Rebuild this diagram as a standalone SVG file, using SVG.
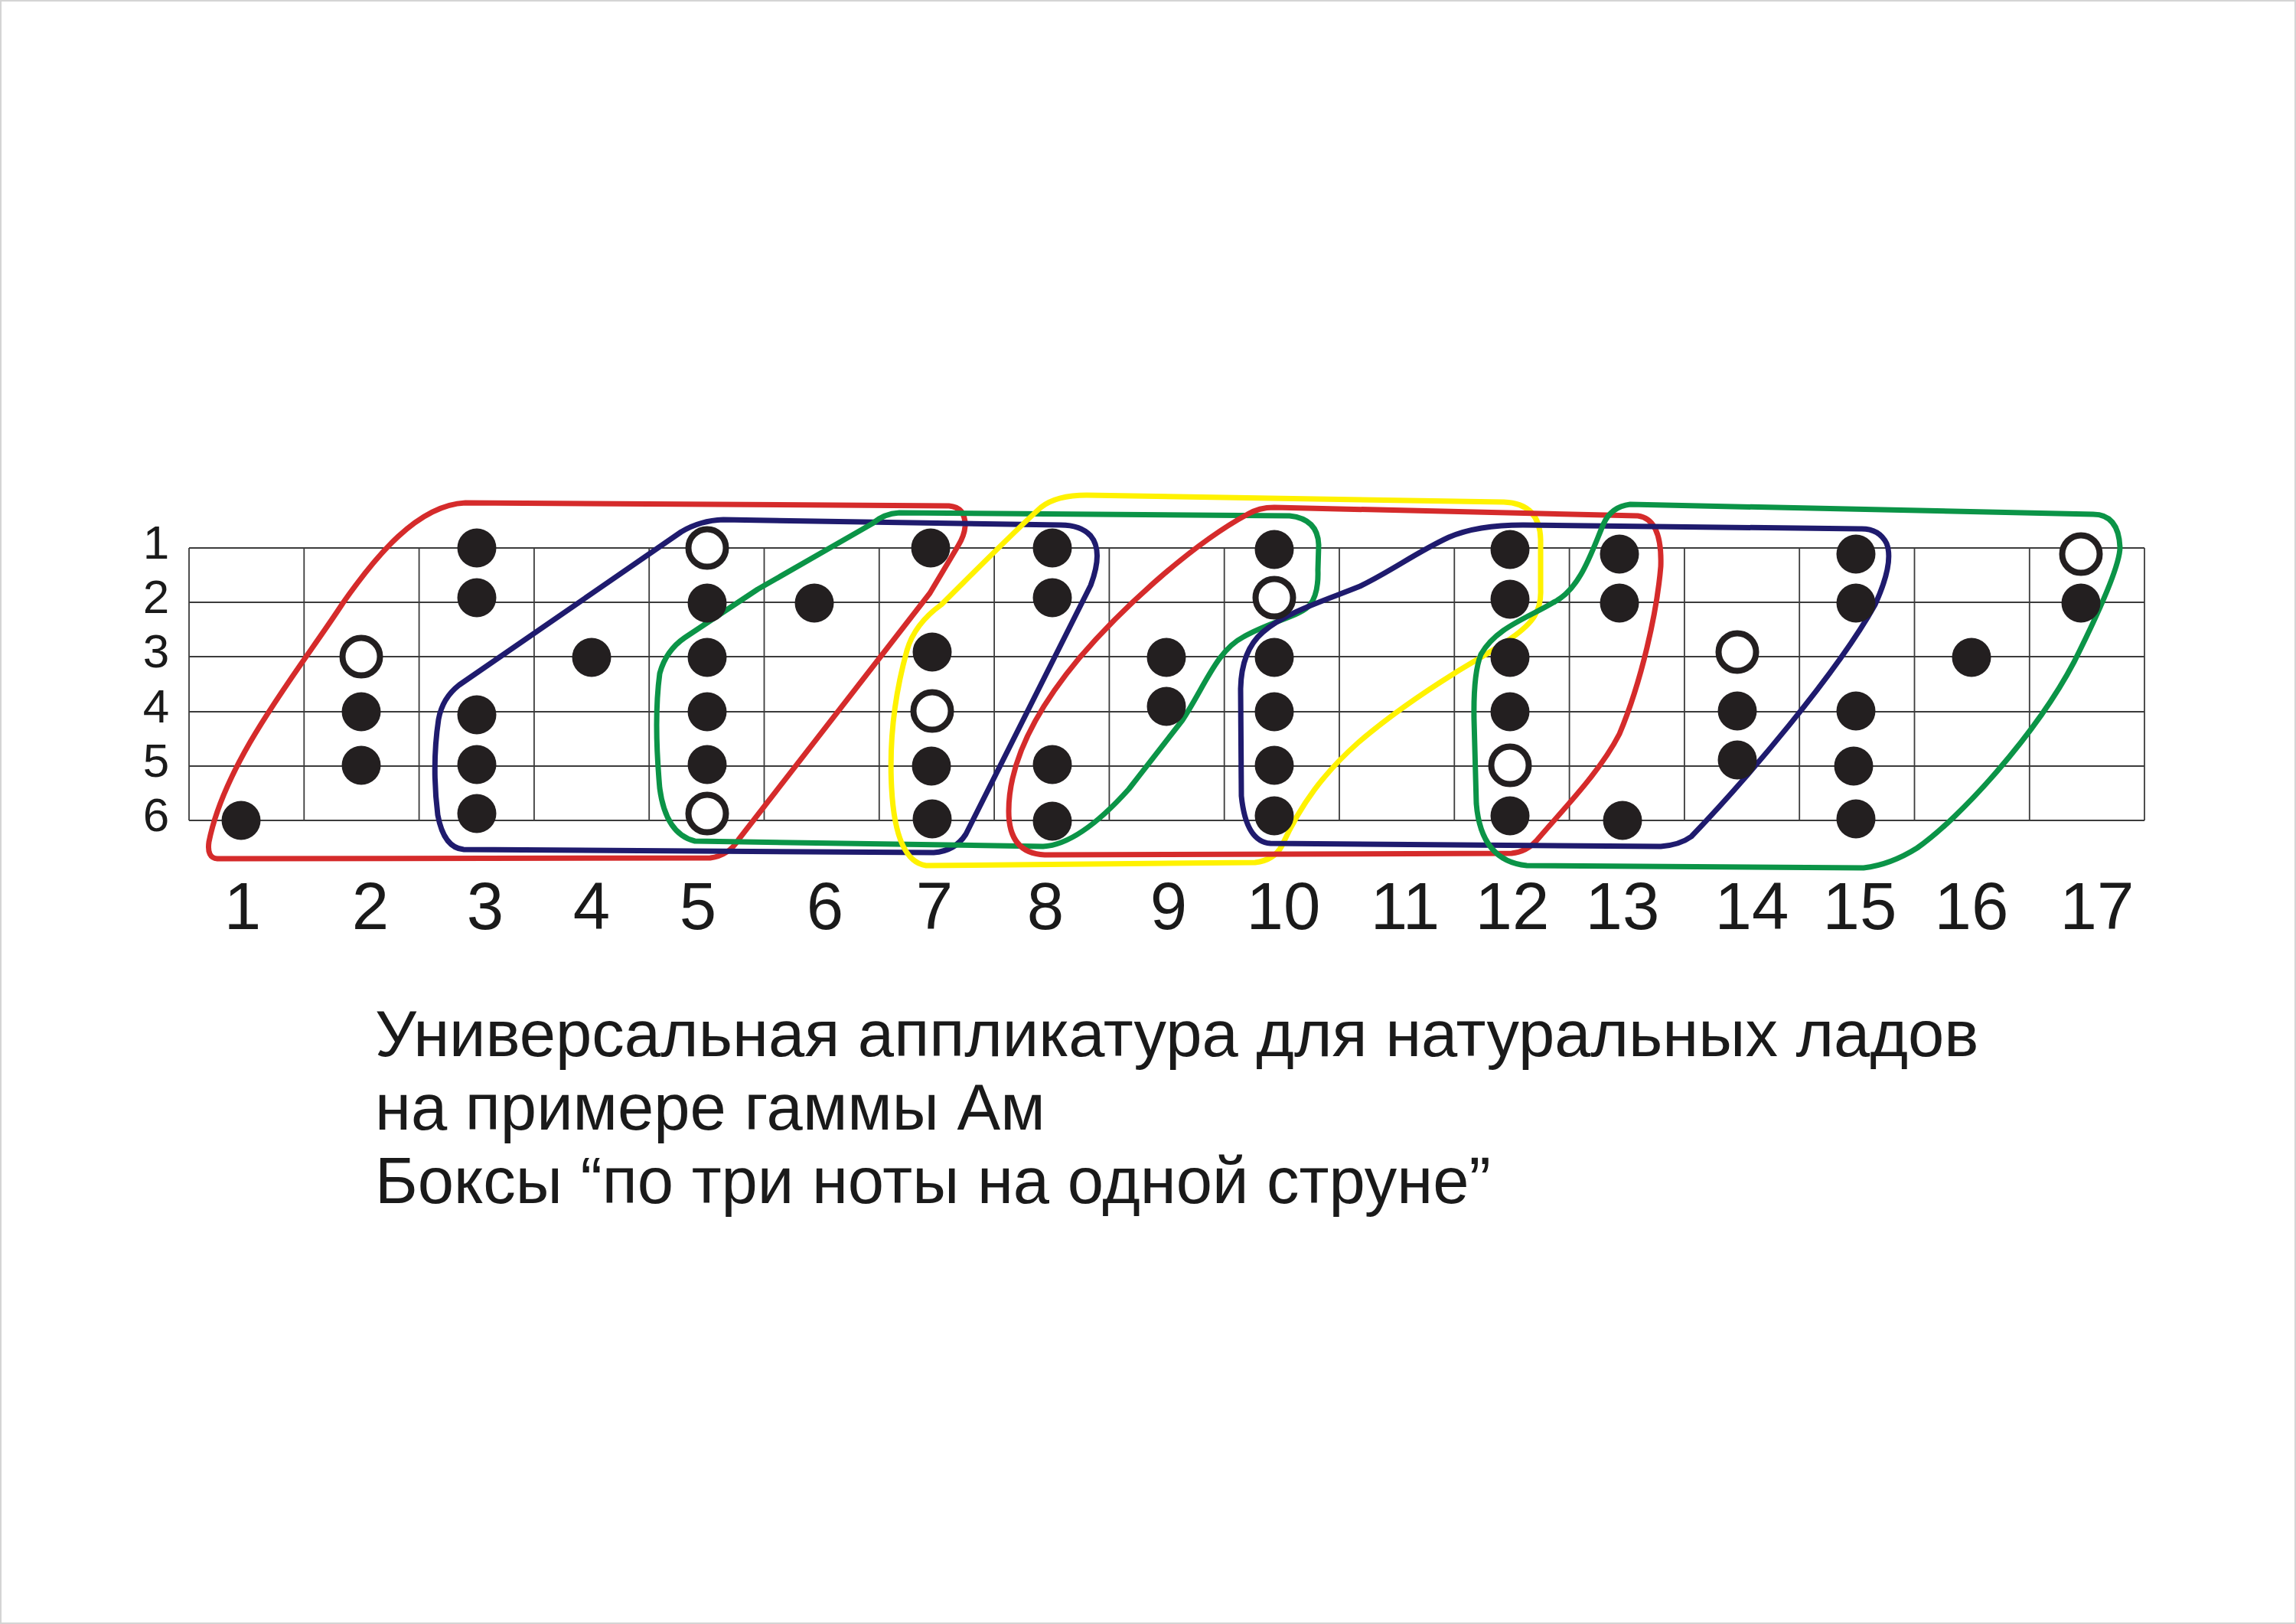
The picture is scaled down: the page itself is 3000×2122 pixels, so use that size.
<svg xmlns="http://www.w3.org/2000/svg" width="3000" height="2122" viewBox="0 0 3000 2122">
<style>
.grid line{stroke:#3c3c3c;stroke-width:1.8}
.edge{stroke:#8a8a8a;stroke-width:2}
.f{fill:#231f20}
.o{fill:#fff;stroke:#231f20;stroke-width:8}
.box{fill:none;stroke-width:7;stroke-linejoin:round}
.red{stroke:#d52b2b}
.navy{stroke:#1f1b6e}
.green{stroke:#0b9447}
.yellow{stroke:#fff200}
text{font-family:"Liberation Sans",Arial,sans-serif;fill:#1a1a1a}
.sl{font-size:62px;text-anchor:middle}
.fn{font-size:87px;text-anchor:middle}
.ti{font-size:85px}
</style>
<rect x="0" y="0" width="3000" height="2122" fill="#fff"/>
<rect x="1" y="1" width="2998" height="2120" fill="none" stroke="#d4d4d4" stroke-width="2"/>
<g id="grid" class="grid">
<line x1="247" y1="716" x2="2802" y2="716"/>
<line x1="247" y1="787" x2="2802" y2="787"/>
<line x1="247" y1="858" x2="2802" y2="858"/>
<line x1="247" y1="930" x2="2802" y2="930"/>
<line x1="247" y1="1001" x2="2802" y2="1001"/>
<line x1="247" y1="1072" x2="2802" y2="1072" class="edge"/>
<line x1="247" y1="716" x2="247" y2="1072"/>
<line x1="397.3" y1="716" x2="397.3" y2="1072"/>
<line x1="547.6" y1="716" x2="547.6" y2="1072"/>
<line x1="697.9" y1="716" x2="697.9" y2="1072"/>
<line x1="848.2" y1="716" x2="848.2" y2="1072"/>
<line x1="998.5" y1="716" x2="998.5" y2="1072"/>
<line x1="1148.8" y1="716" x2="1148.8" y2="1072"/>
<line x1="1299.1" y1="716" x2="1299.1" y2="1072"/>
<line x1="1449.4" y1="716" x2="1449.4" y2="1072"/>
<line x1="1599.7" y1="716" x2="1599.7" y2="1072"/>
<line x1="1750" y1="716" x2="1750" y2="1072"/>
<line x1="1900.3" y1="716" x2="1900.3" y2="1072"/>
<line x1="2050.6" y1="716" x2="2050.6" y2="1072"/>
<line x1="2200.9" y1="716" x2="2200.9" y2="1072"/>
<line x1="2351.2" y1="716" x2="2351.2" y2="1072"/>
<line x1="2501.5" y1="716" x2="2501.5" y2="1072"/>
<line x1="2651.8" y1="716" x2="2651.8" y2="1072"/>
<line x1="2802" y1="716" x2="2802" y2="1072" class="edge"/>
</g>
<g id="string-labels">
<text class="sl" x="204" y="730">1</text>
<text class="sl" x="204" y="801">2</text>
<text class="sl" x="204" y="872">3</text>
<text class="sl" x="204" y="944">4</text>
<text class="sl" x="204" y="1015">5</text>
<text class="sl" x="204" y="1086">6</text>
</g>
<g id="fret-numbers">
<text class="fn" x="317" y="1214">1</text>
<text class="fn" x="484" y="1214">2</text>
<text class="fn" x="634" y="1214">3</text>
<text class="fn" x="773" y="1214">4</text>
<text class="fn" x="912" y="1214">5</text>
<text class="fn" x="1078" y="1214">6</text>
<text class="fn" x="1221" y="1214">7</text>
<text class="fn" x="1366" y="1214">8</text>
<text class="fn" x="1527" y="1214">9</text>
<text class="fn" x="1677" y="1214">10</text>
<text class="fn" x="1836" y="1214">11</text>
<text class="fn" x="1976" y="1214">12</text>
<text class="fn" x="2120" y="1214">13</text>
<text class="fn" x="2289" y="1214">14</text>
<text class="fn" x="2430" y="1214">15</text>
<text class="fn" x="2576" y="1214">16</text>
<text class="fn" x="2740" y="1214">17</text>
</g>
<g id="boxes">
<path id="box-red-1" class="box red" d="M 608,657 L 1240,661 Q 1262,663 1261,688 Q 1260,700 1252,713 L 1215,775 L 965,1097 Q 952,1118 928,1121 L 284,1122 Q 270,1121 273,1100 C 295,990 395,870 448,788 C 490,728 545,660 608,657 Z"/>
<path id="box-navy-1" class="box navy" d="M 606,1110 L 1220,1114 Q 1248,1112 1262,1090 L 1425,765 Q 1442,720 1425,700 Q 1412,686 1386,686 L 945,679 Q 915,680 890,695 L 600,895 Q 578,912 573,940 Q 564,1000 572,1065 Q 580,1108 606,1110 Z"/>
<path id="box-green-1" class="box green" d="M 908,1099 L 1363,1106 C 1400,1104 1440,1070 1475,1031 L 1545,941 C 1575,895 1590,850 1625,832 C 1660,812 1700,805 1712,790 Q 1723,775 1722,745 L 1723,712 Q 1722,678 1685,674 L 1175,670 Q 1155,671 1140,684 L 990,770 L 895,833 Q 870,850 862,880 Q 854,940 862,1030 Q 870,1090 908,1099 Z"/>
<path id="box-yellow" class="box yellow" d="M 1210,1131 L 1640,1127 Q 1665,1124 1675,1105 C 1700,1050 1730,1010 1775,970 C 1810,940 1860,905 1900,880 C 1940,855 1990,830 2005,805 Q 2014,790 2013,770 L 2013,705 Q 2012,658 1965,656 L 1420,647 Q 1380,647 1360,663 C 1330,690 1280,740 1230,790 Q 1195,815 1185,850 Q 1160,940 1165,1030 Q 1170,1125 1210,1131 Z"/>
<path id="box-red-2" class="box red" d="M 1365,1117 L 1975,1115 Q 1995,1113 2008,1098 C 2040,1060 2090,1010 2116,959 C 2145,890 2165,800 2170,740 Q 2172,678 2140,674 L 1665,663 Q 1645,663 1630,672 C 1560,710 1470,790 1410,860 C 1360,920 1318,990 1318,1060 Q 1318,1115 1365,1117 Z"/>
<path id="box-navy-2" class="box navy" d="M 1660,1102 L 2170,1106 Q 2195,1104 2210,1093 C 2280,1020 2400,880 2450,790 Q 2475,735 2465,710 Q 2455,690 2430,691 L 1990,686 Q 1930,686 1893,702 C 1850,722 1820,745 1777,766 C 1730,785 1680,800 1650,826 Q 1622,850 1621,900 L 1622,1040 Q 1628,1100 1660,1102 Z"/>
<path id="box-green-2" class="box green" d="M 1995,1131 L 2435,1134 Q 2470,1130 2505,1108 C 2560,1070 2660,960 2710,865 C 2740,805 2770,740 2770,715 Q 2768,672 2735,672 L 2130,659 Q 2105,662 2095,685 C 2080,720 2065,770 2030,787 C 1995,808 1955,820 1935,855 Q 1925,880 1926,940 L 1929,1050 Q 1935,1125 1995,1131 Z"/>
</g>
<g id="notes">
<circle class="f" cx="315" cy="1072" r="25.5"/>
<circle class="o" cx="472" cy="858" r="24.5"/>
<circle class="f" cx="472" cy="930" r="25.5"/>
<circle class="f" cx="472" cy="1000" r="25.5"/>
<circle class="f" cx="623" cy="716" r="25.5"/>
<circle class="f" cx="623" cy="781" r="25.5"/>
<circle class="f" cx="623" cy="934" r="25.5"/>
<circle class="f" cx="623" cy="999" r="25.5"/>
<circle class="f" cx="623" cy="1063" r="25.5"/>
<circle class="f" cx="773" cy="859" r="25.5"/>
<circle class="o" cx="924" cy="716" r="24.5"/>
<circle class="f" cx="924" cy="788" r="25.5"/>
<circle class="f" cx="924" cy="859" r="25.5"/>
<circle class="f" cx="924" cy="930" r="25.5"/>
<circle class="f" cx="924" cy="999" r="25.5"/>
<circle class="o" cx="924" cy="1063" r="24.5"/>
<circle class="f" cx="1064" cy="788" r="25.5"/>
<circle class="f" cx="1216" cy="716" r="25.5"/>
<circle class="f" cx="1218" cy="852" r="25.5"/>
<circle class="o" cx="1218" cy="929" r="24.5"/>
<circle class="f" cx="1217" cy="1001" r="25.5"/>
<circle class="f" cx="1218" cy="1070" r="25.5"/>
<circle class="f" cx="1375" cy="716" r="25.5"/>
<circle class="f" cx="1375" cy="781" r="25.5"/>
<circle class="f" cx="1375" cy="999" r="25.5"/>
<circle class="f" cx="1375" cy="1073" r="25.5"/>
<circle class="f" cx="1524" cy="859" r="25.5"/>
<circle class="f" cx="1524" cy="923" r="25.5"/>
<circle class="f" cx="1665" cy="718" r="25.5"/>
<circle class="o" cx="1665" cy="781" r="24.5"/>
<circle class="f" cx="1665" cy="859" r="25.5"/>
<circle class="f" cx="1665" cy="930" r="25.5"/>
<circle class="f" cx="1665" cy="1000" r="25.5"/>
<circle class="f" cx="1665" cy="1066" r="25.5"/>
<circle class="f" cx="1973" cy="718" r="25.5"/>
<circle class="f" cx="1973" cy="783" r="25.5"/>
<circle class="f" cx="1973" cy="859" r="25.5"/>
<circle class="f" cx="1973" cy="930" r="25.5"/>
<circle class="o" cx="1973" cy="1000" r="24.5"/>
<circle class="f" cx="1973" cy="1066" r="25.5"/>
<circle class="f" cx="2116" cy="724" r="25.5"/>
<circle class="f" cx="2116" cy="788" r="25.5"/>
<circle class="f" cx="2120" cy="1072" r="25.5"/>
<circle class="o" cx="2270" cy="852" r="24.5"/>
<circle class="f" cx="2270" cy="929" r="25.5"/>
<circle class="f" cx="2270" cy="993" r="25.5"/>
<circle class="f" cx="2425" cy="724" r="25.5"/>
<circle class="f" cx="2425" cy="788" r="25.5"/>
<circle class="f" cx="2425" cy="929" r="25.5"/>
<circle class="f" cx="2422" cy="1001" r="25.5"/>
<circle class="f" cx="2425" cy="1070" r="25.5"/>
<circle class="f" cx="2576" cy="859" r="25.5"/>
<circle class="o" cx="2719" cy="724" r="24.5"/>
<circle class="f" cx="2719" cy="788" r="25.5"/>
</g>
<g id="caption">
<text class="ti" x="490" y="1380">Универсальная аппликатура для натуральных ладов</text>
<text class="ti" x="490" y="1476">на примере гаммы Ам</text>
<text class="ti" x="490" y="1572">Боксы “по три ноты на одной струне”</text>
</g>
</svg>
